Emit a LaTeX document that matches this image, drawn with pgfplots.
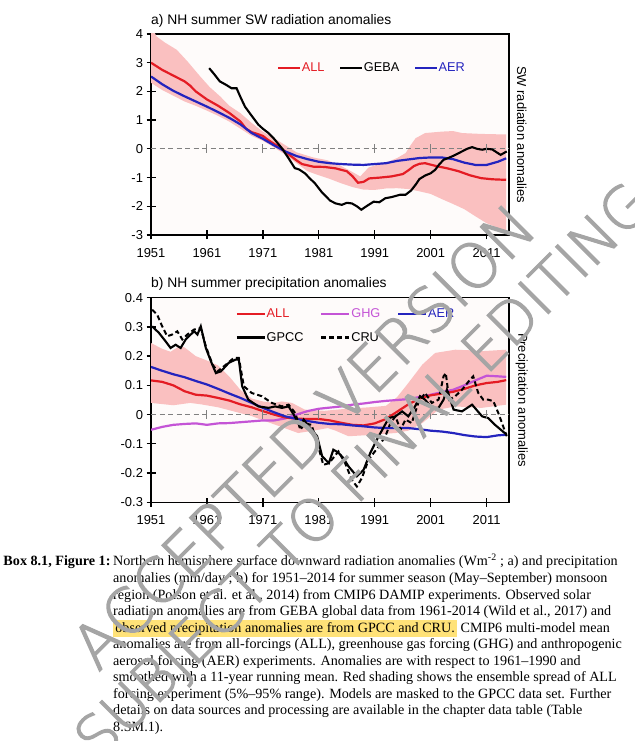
\documentclass[border=0pt]{standalone}
\usepackage{fontspec}
\setmainfont{Liberation Serif}
\newfontfamily\arial{Liberation Sans}
\IfFontExistsTF{DejaVuSans-ExtraLight.ttf}
  {\newfontfamily\wmfont{DejaVuSans-ExtraLight.ttf}}
  {\newfontfamily\wmfont{DejaVu Sans}}
\usepackage{pgfplots}
\usepackage{pgfplotstable}
\pgfplotsset{compat=1.18}

\definecolor{allred}{RGB}{228,28,36}
\definecolor{aerblue}{RGB}{36,36,190}
\definecolor{ghgmag}{RGB}{196,84,214}
\definecolor{shade}{RGB}{250,192,192}
\definecolor{bgc}{RGB}{254,251,250}
\definecolor{hl}{RGB}{255,226,120}
\definecolor{zgray}{RGB}{128,128,128}
\definecolor{wmgray}{RGB}{165,165,165}

% ---------- panel a ----------
\pgfplotstableread{
x y
1951 3.0
1953 2.75
1955 2.55
1957 2.35
1958 2.2
1959 2.0
1961 1.72
1963 1.5
1965 1.25
1967 0.95
1968 0.7
1969 0.58
1970 0.52
1971 0.45
1972 0.3
1974 0.05
1975 -0.09
1976 -0.25
1977 -0.4
1978 -0.53
1980 -0.62
1982 -0.63
1984 -0.68
1986 -0.78
1987 -0.95
1988 -1.18
1989 -1.15
1990 -1.03
1992 -1.0
1994 -0.96
1996 -0.88
1997 -0.75
1998 -0.6
1999 -0.52
2000 -0.5
2001 -0.55
2002 -0.6
2004 -0.68
2006 -0.78
2008 -0.92
2010 -1.02
2012 -1.06
2014.5 -1.08
}\aALL

\pgfplotstableread{
x y
1951 2.52
1953 2.25
1955 2.02
1957 1.83
1959 1.65
1961 1.47
1963 1.28
1965 1.08
1967 0.85
1969 0.55
1971 0.35
1973 0.12
1975 -0.09
1977 -0.25
1979 -0.36
1981 -0.45
1983 -0.5
1985 -0.53
1987 -0.55
1989 -0.56
1991 -0.53
1993 -0.5
1995 -0.42
1997 -0.37
1999 -0.32
2001 -0.3
2003 -0.3
2005 -0.36
2007 -0.48
2009 -0.56
2011 -0.56
2013 -0.45
2014.5 -0.33
}\aAER

\pgfplotstableread{
x y
1961.4 2.81
1962.3 2.6
1963.3 2.35
1964.5 2.22
1965.4 2.11
1966.3 2.11
1967 1.8
1967.8 1.47
1969 1.15
1970.2 0.84
1971 0.7
1972 0.55
1973 0.35
1974.4 0.02
1975.5 -0.3
1976.7 -0.67
1977.5 -0.72
1978.5 -0.85
1979.5 -1.05
1980.3 -1.2
1981.5 -1.5
1983 -1.8
1984 -1.9
1985.1 -1.95
1986 -1.88
1986.9 -1.9
1987.8 -2.0
1988.6 -2.12
1989.5 -2.0
1990.8 -1.84
1991.8 -1.86
1992.9 -1.72
1994 -1.68
1995.5 -1.6
1996.5 -1.6
1997.5 -1.45
1998.3 -1.25
1999 -1.05
2000 -0.93
2001 -0.85
2001.8 -0.73
2002.5 -0.55
2003.3 -0.38
2004 -0.33
2005.1 -0.24
2006.6 -0.09
2007.5 0.0
2008.4 0.06
2009.3 0.0
2010.2 -0.03
2011 0.0
2012 -0.02
2013.5 -0.21
2014.6 -0.09
}\aGEBA

% ALL spread: upper bound forward, then lower bound backward
\pgfplotstableread{
x y
1951 4.3
1952 3.91
1953.5 3.7
1955.6 3.45
1957.5 3.05
1959.8 2.52
1961.5 2.15
1963.4 1.82
1965 1.5
1967 1.24
1969 0.9
1971 0.6
1974 0.25
1977 -0.12
1980 -0.3
1982.6 -0.4
1985 -0.6
1986.3 -0.73
1988.4 -0.96
1989.9 -0.65
1991.5 -0.55
1993.5 -0.44
1995 -0.32
1996.5 -0.15
1997.5 0.15
1998.3 0.37
2000 0.55
2003 0.6
2005 0.62
2006.6 0.55
2010 0.52
2014.5 0.5
2014.5 -2.85
2013 -2.75
2011 -2.59
2009 -2.35
2007 -2.1
2005 -1.92
2003 -1.75
2001 -1.57
1999 -1.48
1997 -1.4
1995 -1.37
1993 -1.38
1991 -1.43
1989 -1.42
1987 -1.33
1985 -1.2
1983 -1.05
1981 -0.92
1979 -0.78
1977 -0.5
1975 -0.2
1973 0.05
1971 0.28
1969 0.45
1967 0.7
1965 0.95
1963 1.15
1961 1.33
1959 1.5
1957 1.65
1955 1.85
1953 2.05
1951 2.3
}\aSH

% ---------- panel b ----------
\pgfplotstableread{
x y
1951 0.117
1953 0.112
1955 0.1
1957 0.08
1959 0.068
1961 0.065
1963 0.057
1965 0.048
1967 0.035
1969 0.025
1971 0.012
1973 0.0
1975 -0.01
1977 -0.014
1979 -0.015
1981 -0.015
1983 -0.02
1985 -0.028
1987 -0.035
1989 -0.037
1991 -0.03
1993 -0.015
1995 0.01
1997 0.035
1999 0.055
2001 0.066
2003 0.072
2005 0.078
2007 0.088
2009 0.1
2011 0.108
2013 0.112
2014.5 0.118
}\bALL

\pgfplotstableread{
x y
1951 -0.052
1953 -0.042
1955 -0.035
1957 -0.032
1959 -0.03
1961 -0.035
1963 -0.03
1965 -0.029
1967 -0.026
1969 -0.023
1971 -0.02
1973 -0.02
1975 -0.013
1977 0.0
1979 0.012
1981 0.02
1983 0.024
1985 0.028
1987 0.034
1989 0.038
1991 0.043
1993 0.047
1995 0.05
1997 0.053
1999 0.06
2001 0.068
2003 0.077
2005 0.085
2007 0.1
2009 0.117
2011 0.133
2013 0.131
2014.5 0.129
}\bGHG

\pgfplotstableread{
x y
1951 0.163
1953 0.15
1955 0.138
1957 0.128
1959 0.115
1961 0.103
1963 0.088
1965 0.072
1967 0.057
1969 0.04
1971 0.023
1973 0.008
1975 -0.006
1977 -0.015
1979 -0.022
1981 -0.028
1983 -0.032
1985 -0.033
1987 -0.037
1989 -0.04
1991 -0.044
1993 -0.046
1995 -0.046
1997 -0.046
1999 -0.05
2001 -0.055
2003 -0.058
2005 -0.063
2007 -0.07
2009 -0.075
2011 -0.077
2013 -0.071
2014.5 -0.069
}\bAER

% ALL spread: upper bound forward, then lower bound backward
\pgfplotstableread{
x y
1951 0.245
1953 0.225
1954.5 0.215
1956 0.233
1957 0.23
1959 0.2
1961 0.185
1963 0.168
1965 0.13
1967 0.084
1969 0.055
1971 0.045
1973 0.04
1974.4 0.045
1976.2 0.04
1978.5 0.017
1982 0.013
1986 0.02
1990 0.025
1993 0.03
1995 0.06
1997 0.108
1999.5 0.171
2001.8 0.211
2005.4 0.222
2008 0.22
2010.1 0.217
2014.5 0.222
2014.5 0.034
2010.1 0.023
2005.4 0.028
2002.4 0.017
1999.5 -0.029
1997 -0.055
1994.7 -0.063
1989.9 -0.07
1986.3 -0.074
1984 -0.055
1982.6 -0.046
1980 -0.055
1977.3 -0.063
1974 -0.04
1971.5 -0.023
1969 -0.005
1966 0.01
1963 0.025
1960 0.035
1958 0.04
1955 0.032
1951 0.04
}\bSH

\pgfplotstableread{
x y
1951.2 0.302
1952.4 0.28
1953.6 0.251
1954.5 0.228
1955.4 0.239
1956.3 0.228
1957.2 0.257
1958.1 0.274
1958.7 0.285
1959.3 0.274
1959.9 0.302
1960.8 0.228
1961.7 0.183
1962.6 0.142
1963.5 0.148
1964.9 0.177
1966.1 0.188
1966.7 0.188
1967.3 0.097
1968.4 0.051
1970.2 0.028
1972 0.023
1973.2 0.028
1974.4 0.023
1975.6 0.028
1976.5 0.0
1977.7 -0.04
1978.3 -0.017
1979.2 -0.04
1980.7 -0.074
1981.6 -0.143
1982.8 -0.166
1983.6 -0.12
1984.5 -0.13
1985.4 -0.149
1986.3 -0.177
1987.8 -0.211
1989 -0.189
1990.2 -0.131
1991.7 -0.074
1993.5 -0.012
1994.7 -0.006
1995.9 0.011
1997 -0.006
1998.2 0.028
1999.1 0.063
2000 0.051
2001.2 0.023
2002.4 0.023
2003.3 0.051
2003.9 0.085
2005.1 0.017
2006.6 0.011
2008.4 0.034
2010.2 -0.006
2011.3 -0.012
2012.5 -0.035
2014.6 -0.069
}\bGPCC

\pgfplotstableread{
x y
1951.2 0.359
1952.1 0.342
1953 0.302
1953.9 0.268
1954.8 0.274
1955.7 0.285
1956.6 0.257
1957.5 0.274
1958.7 0.291
1959.9 0.296
1960.8 0.234
1962 0.171
1962.9 0.148
1964.4 0.171
1965.8 0.194
1966.7 0.194
1967.6 0.097
1969 0.074
1970.8 0.063
1972.6 0.04
1974.4 0.028
1975.6 0.034
1976.8 0.005
1977.7 -0.052
1978.5 -0.03
1979.7 -0.035
1980.9 -0.109
1981.8 -0.172
1982.8 -0.166
1983.3 -0.155
1984.5 -0.126
1985.7 -0.166
1986.9 -0.223
1987.8 -0.246
1988.7 -0.217
1989.9 -0.154
1991.7 -0.109
1992.9 -0.074
1993.8 -0.029
1994.7 -0.006
1995.6 -0.052
1996.5 -0.017
1997.6 -0.029
1998.8 0.04
2000 0.074
2001.2 0.04
2002.4 0.051
2003.3 0.131
2003.7 0.142
2004.3 0.051
2005.4 0.063
2006.6 0.085
2007.8 0.114
2008.6 0.131
2009.5 0.074
2010.4 0.051
2011.3 0.051
2012.2 0.046
2013.1 0.005
2014.6 -0.074
}\bCRU

\pgfplotsset{
  mybase/.style={
    scale only axis,
    width=358bp,
    xmin=1951, xmax=2015,
    xtick={1951,1961,1971,1981,1991,2001,2011},
    tick align=center,
    xtick pos=bottom, ytick pos=left,
    major tick length=9bp,
    minor tick num=0,
    axis line style={line width=1.3bp},
    every tick/.style={black, line width=1.3bp},
    axis background/.style={fill=bgc},
    tick label style={font=\arial\fontsize{13}{15}\selectfont},
    /pgf/number format/assume math mode=true,
    xticklabel style={/pgf/number format/1000 sep={}, yshift=-5bp},
    title style={at={(0,1)}, anchor=base west, yshift=4bp, inner sep=0pt, font=\arial\fontsize{13.9}{16}\selectfont},
    ylabel style={at={(axis description cs:1.0355,0.5)}, anchor=center, rotate=180, inner sep=0pt, font=\arial\fontsize{13}{15}\selectfont},
    legend cell align=left,
  },
  zeroline/.style={zgray, line width=1.1bp, dash pattern=on 5bp off 3.5bp},
  zeroticks/.style={only marks, mark=|, mark size=4.5bp, mark options={zgray, line width=1bp, solid}},
}

\begin{document}
\begin{tikzpicture}[x=1bp,y=1bp]
\path[use as bounding box] (0,0) rectangle (635,741);

% ---------- panel a ----------
\begin{axis}[mybase,
  at={(151bp,506bp)}, anchor=south west, height=201bp,
  ymin=-3, ymax=4, ytick={-3,-2,-1,0,1,2,3,4},
  title={a) NH summer SW radiation anomalies},
  ylabel={SW radiation anomalies},
  legend columns=3,
  legend image code/.code={\draw[#1, line width=2.2bp] (0bp,0bp) -- (21.5bp,0bp);},
  legend style={at={(0.3525,0.832)}, anchor=west, draw=none, fill=none, inner sep=0pt,
    nodes={inner sep=0.8bp, font=\arial\fontsize{12.8}{14}\selectfont},
    /tikz/every even column/.append style={column sep=14bp}},
]
\addplot[fill=shade, draw=none, forget plot] table {\aSH};
\addplot[zeroline, forget plot] coordinates {(1951,0) (2015,0)};
\addplot[zeroticks, forget plot] coordinates {(1961,0) (1971,0) (1981,0) (1991,0) (2001,0) (2011,0)};
\addplot[allred, line width=2.2bp, forget plot] table {\aALL};
\addplot[aerblue, line width=2.2bp, forget plot] table {\aAER};
\addplot[black, line width=2.1bp, forget plot] table {\aGEBA};
\addlegendimage{allred}
\addlegendentry[text=allred]{ALL}
\addlegendimage{black}
\addlegendentry{GEBA}
\addlegendimage{aerblue}
\addlegendentry[text=aerblue]{AER}
\end{axis}

% ---------- panel b ----------
\begin{axis}[mybase,
  at={(151bp,238.7bp)}, anchor=south west, height=204.6bp,
  ymin=-0.3, ymax=0.4, ytick={-0.3,-0.2,-0.1,0,0.1,0.2,0.3,0.4},
  yticklabel style={/pgf/number format/.cd, fixed, precision=1},
  title={b) NH summer precipitation anomalies},
  ylabel={Precipitation anomalies},
  legend columns=3,
  legend image code/.code={\draw[#1, line width=2.2bp] (0bp,0bp) -- (28bp,0bp);},
  legend style={at={(0.236,0.8624)}, anchor=west, draw=none, fill=none, inner sep=0pt,
    nodes={inner sep=0.8bp, font=\arial\fontsize{12.8}{14}\selectfont},
    /tikz/every even column/.append style={column sep=16bp},
    row sep=11.5bp},
]
\addplot[fill=shade, draw=none, forget plot] table {\bSH};
\addplot[zeroline, forget plot] coordinates {(1951,0) (2015,0)};
\addplot[zeroticks, forget plot] coordinates {(1961,0) (1971,0) (1981,0) (1991,0) (2001,0) (2011,0)};
\addplot[ghgmag, line width=2.2bp, forget plot] table {\bGHG};
\addplot[allred, line width=2.2bp, forget plot] table {\bALL};
\addplot[aerblue, line width=2.2bp, forget plot] table {\bAER};
\addplot[black, line width=2.0bp, dash pattern=on 5bp off 3bp, forget plot] table {\bCRU};
\addplot[black, line width=2.1bp, forget plot] table {\bGPCC};
\addlegendimage{allred}
\addlegendentry[text=allred]{ALL}
\addlegendimage{ghgmag}
\addlegendentry[text=ghgmag]{GHG}
\addlegendimage{aerblue}
\addlegendentry[text=aerblue]{AER}
\addlegendimage{black}
\addlegendentry{GPCC}
\addlegendimage{black, dash pattern=on 5bp off 3bp}
\addlegendentry{CRU}
\end{axis}

% ---------- caption ----------
\node[anchor=base west, inner sep=0pt, font=\fontsize{14.2}{16.6}\selectfont\bfseries] at (3.3,175) {Box 8.1, Figure 1:};
\node[anchor=base west, inner sep=0pt, font=\fontsize{14.2}{16.6}\selectfont] at (113,175) {%
\parbox[t]{520bp}{\raggedright\setlength{\fboxsep}{2.2bp}%
Northern hemisphere surface downward radiation anomalies (Wm\textsuperscript{-2} ; a) and precipitation\\
anomalies (mm/day ; b) for 1951--2014 for summer season (May--September) monsoon\\
region (Polson et al. et al., 2014) from CMIP6 DAMIP experiments. Observed solar\\
radiation anomalies are from GEBA global data from 1961-2014 (Wild et al., 2017) and\\
\colorbox{hl}{observed precipitation anomalies are from GPCC and CRU.} CMIP6 multi-model mean\\
anomalies are from all-forcings (ALL), greenhouse gas forcing (GHG) and anthropogenic\\
aerosol forcing (AER) experiments. Anomalies are with respect to 1961--1990 and\\
smoothed with a 11-year running mean. Red shading shows the ensemble spread of ALL\\
forcing experiment (5\%--95\% range). Models are masked to the GPCC data set. Further\\
details on data sources and processing are available in the chapter data table (Table\\
8.SM.1).}};

% ---------- watermark ----------
\node[rotate=45, anchor=base, inner sep=0pt, text=wmgray, font=\wmfont\fontsize{62}{62}\selectfont] at (319,289)
  {\special{pdf:literal direct 2 Tr 1.3 w 0.647 G}ACCEPTED VERSION\special{pdf:literal direct 0 Tr}};
\node[rotate=45, anchor=base, inner sep=0pt, text=wmgray, font=\wmfont\fontsize{58}{58}\selectfont] at (377,256)
  {\special{pdf:literal direct 2 Tr 1.3 w 0.647 G}SUBJECT TO FINAL EDITING\special{pdf:literal direct 0 Tr}};
\end{tikzpicture}
\end{document}
